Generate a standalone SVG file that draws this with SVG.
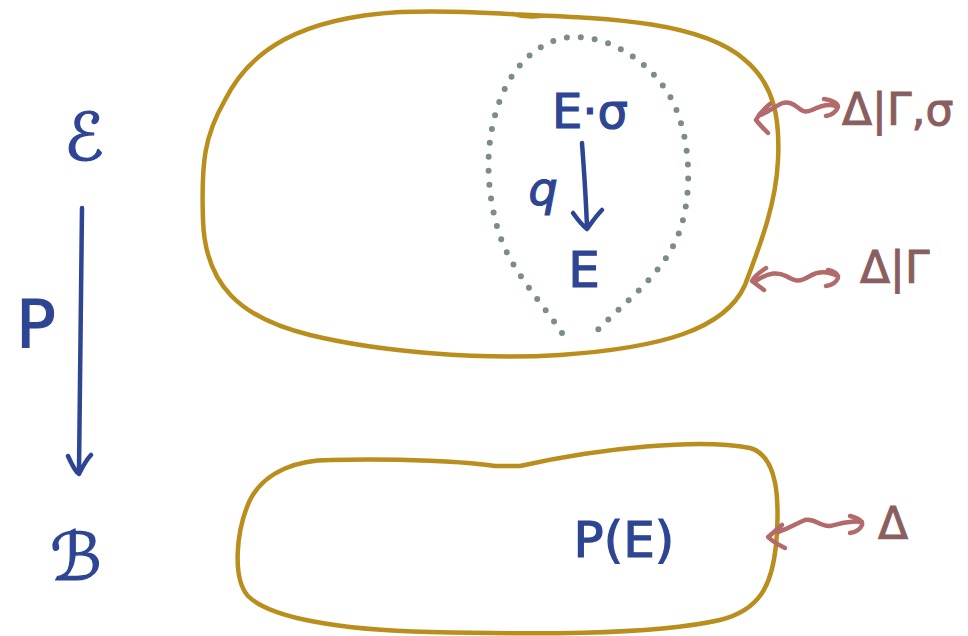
<svg xmlns="http://www.w3.org/2000/svg" width="968" height="636" viewBox="0 0 968 636">
<style>
.blob{fill:none;stroke:#b98e1c;stroke-width:4.5;stroke-linecap:round;stroke-linejoin:round}
.ink{fill:none;stroke:#2e4593;stroke-width:4.5;stroke-linecap:round;stroke-linejoin:round}
.sq{fill:none;stroke:#b26a6a;stroke-width:4.5;stroke-linecap:round;stroke-linejoin:round}
.dot{fill:none;stroke:#7b8c8b;stroke-width:6;stroke-linecap:round;stroke-dasharray:0 14}
.t{fill:#2e4593;stroke:#2e4593;stroke-width:1.2;font-family:"DejaVu Sans","Liberation Sans",sans-serif}
.r{fill:#8a5e5e;stroke:#8a5e5e;stroke-width:1;font-family:"DejaVu Sans","Liberation Sans",sans-serif;font-size:44px}
</style>
<rect width="968" height="636" fill="#ffffff"/>
<g id="total-space">
<path class="blob" d="M510,14 C600,18 700,20 745,60 C775,85 780,120 778,160 C776,205 760,245 745,285 C725,330 660,348 560,355 C480,360 380,352 310,335 C240,318 205,285 203,220 C201,160 205,135 225,100 C250,50 300,18 400,12 C450,10 490,13 510,14 M512,14 C520,16 530,17 540,16"/>
</g>
<g id="fiber">
<path class="dot" d="M562,333 C540,300 510,270 498,230 C485,185 485,140 500,100 C515,60 545,37 575,37 C610,37 650,60 672,100 C692,140 692,195 680,230 C665,275 620,305 592,336"/>
</g>
<g id="base-space">
<path class="blob" d="M520,466 C600,448 700,438 750,448 C778,456 780,500 776,545 C772,585 760,610 720,620 C650,636 520,634 430,632 C340,630 270,618 248,596 C232,578 236,530 250,500 C265,470 300,460 330,460 C400,458 470,462 495,466 C505,466 515,466 520,466"/>
</g>
<g id="labels-left">
<text class="t" x="84" y="160" font-size="66" text-anchor="middle" font-style="italic" stroke-width="2">ℰ</text>
<text class="t" x="36" y="347" font-size="66" text-anchor="middle">P</text>
<text class="t" x="76" y="580" font-size="66" text-anchor="middle" font-style="italic" stroke-width="2">ℬ</text>
</g>
<g id="fiber-labels">
<text class="t" x="590" y="128" font-size="48" text-anchor="middle">E·σ</text>
<text class="t" x="543" y="205" font-size="46" text-anchor="middle" font-style="italic">q</text>
<text class="t" x="584" y="287" font-size="50" text-anchor="middle">E</text>
<text class="t" x="624" y="557" font-size="50" text-anchor="middle">P(E)</text>
</g>
<g id="right-labels">
<text class="r" x="842" y="125" font-size="46">Δ|Γ,σ</text>
<text class="r" x="860" y="283" font-size="48">Δ|Γ</text>
<text class="r" x="878" y="539" font-size="52">Δ</text>
</g>
<g id="connectors">
<path class="ink" d="M82,208 C81,280 80,360 79,470 M68,456 C72,465 76,472 79,474 C82,468 86,460 91,455"/>
<path class="ink" d="M582,143 C584,170 586,200 587,227 M573,213 C578,220 583,226 587,229 C592,222 596,216 602,210"/>
<path class="sq" d="M770,104 C765,108 759,114 756,120 C760,125 765,130 768,133 M760,115 C775,110 780,100 790,103 C800,106 800,115 812,110 C822,105 830,104 836,106 M824,99 C832,100 838,103 838,107 C836,112 832,115 826,116"/>
<path class="sq" d="M766,268 C760,272 754,276 752,281 C756,284 760,287 764,290 M757,280 C770,272 778,272 786,276 C796,282 800,282 810,276 C820,270 828,272 838,276 M828,270 C834,271 838,274 838,278 C836,283 832,285 826,286"/>
<path class="sq" d="M782,525 C776,530 772,534 768,537 C773,542 779,545 785,548 M778,532 C790,528 795,524 805,520 C815,518 820,527 830,526 C840,524 850,520 862,522 M850,516 C858,518 863,521 862,525 C860,530 856,532 850,533"/>
</g>
</svg>
